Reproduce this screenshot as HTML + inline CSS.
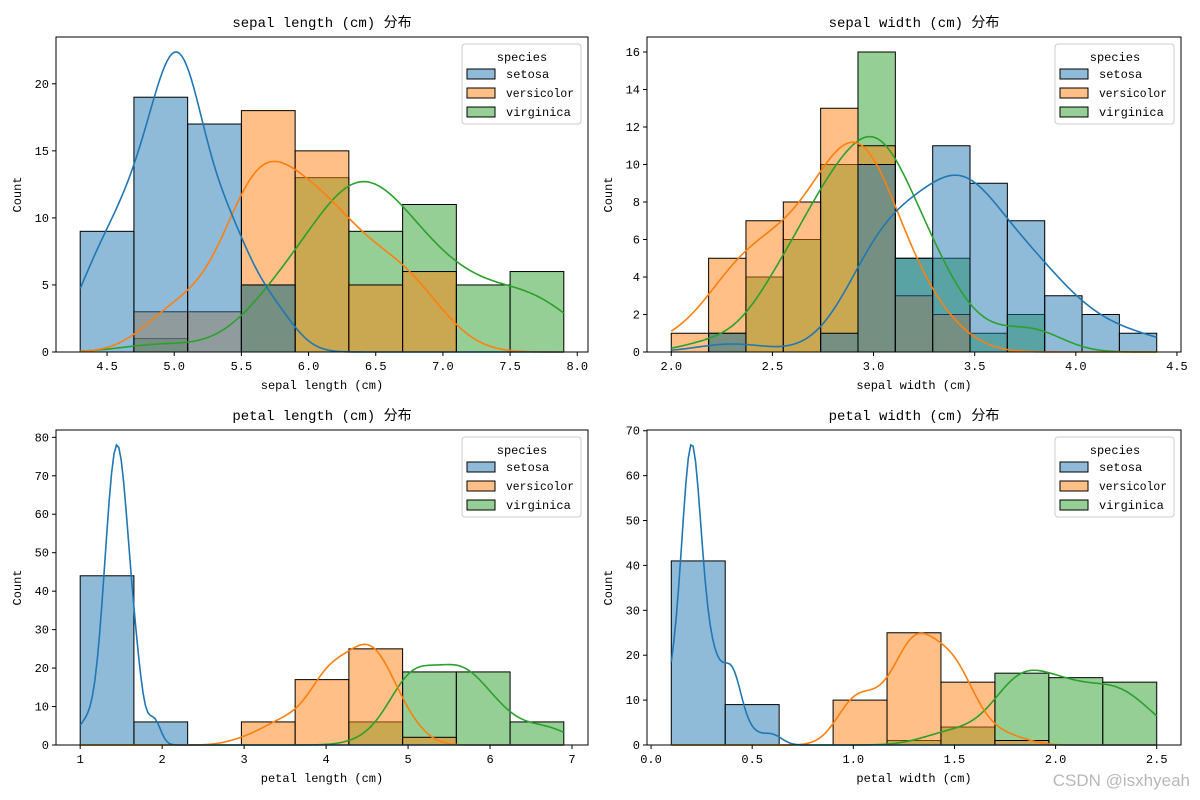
<!DOCTYPE html>
<html><head><meta charset="utf-8">
<style>
html,body{margin:0;padding:0;background:#fff;}
svg{display:block;}
text{font-family:"Liberation Mono","Noto Sans CJK SC",monospace;fill:#000;}
</style></head>
<body>
<svg id="fig" width="1200" height="800" xmlns="http://www.w3.org/2000/svg"></svg>
<script>
// ---- data ----
const species = ["setosa","versicolor","virginica"];
const colors = ["#1f77b4","#ff7f0e","#2ca02c"];
const features = ["sepal length (cm)","sepal width (cm)","petal length (cm)","petal width (cm)"];
const binMin = [4.3, 2.0, 1.0, 0.1];
const binMax = [7.9, 4.4, 6.9, 2.5];
const slSetosa = [9,19,17,5,0,0,0,0,0];
const slVersicolor = [0,3,3,18,15,5,6,0,0];
const slVirginica = [0,1,0,5,13,9,11,5,6];
const swSetosa = [0,1,0,0,1,10,5,11,9,7,3,2,1];
const swVersicolor = [1,5,7,8,13,11,3,2,0,0,0,0,0];
const swVirginica = [0,1,4,6,10,16,5,5,1,2,0,0,0];
const plSetosa = [44,6,0,0,0,0,0,0,0];
const plVersicolor = [0,0,0,6,17,25,2,0,0];
const plVirginica = [0,0,0,0,0,6,19,19,6];
const pwSetosa = [41,9,0,0,0,0,0,0,0];
const pwVersicolor = [0,0,0,10,25,14,1,0,0];
const pwVirginica = [0,0,0,0,1,4,16,15,14];
const slSetosaVals = [4.3,4.4,4.5,4.6,4.7,4.8,4.9,5.0,5.1,5.2,5.3,5.4,5.5,5.7,5.8];
const slSetosaFreq = [1,3,1,4,2,5,4,8,8,3,1,5,2,2,1];
const slVersVals = [4.9,5.0,5.1,5.2,5.4,5.5,5.6,5.7,5.8,5.9,6.0,6.1,6.2,6.3,6.4,6.5,6.6,6.7,6.8,6.9,7.0];
const slVersFreq = [1,2,1,1,1,5,5,5,3,2,4,4,2,3,2,1,2,3,1,1,1];
const slVirgVals = [4.9,5.6,5.7,5.8,5.9,6.0,6.1,6.2,6.3,6.4,6.5,6.7,6.8,6.9,7.1,7.2,7.3,7.4,7.6,7.7,7.9];
const slVirgFreq = [1,1,1,3,1,2,2,2,6,5,4,5,2,3,1,3,1,1,1,4,1];
const swSetosaVals = [2.3,2.9,3.0,3.1,3.2,3.3,3.4,3.5,3.6,3.7,3.8,3.9,4.0,4.1,4.2,4.4];
const swSetosaFreq = [1,1,6,4,5,2,9,6,3,3,4,2,1,1,1,1];
const swVersVals = [2.0,2.2,2.3,2.4,2.5,2.6,2.7,2.8,2.9,3.0,3.1,3.2,3.3,3.4];
const swVersFreq = [1,2,3,3,4,3,5,6,7,8,3,3,1,1];
const swVirgVals = [2.2,2.5,2.6,2.7,2.8,2.9,3.0,3.1,3.2,3.3,3.4,3.6,3.8];
const swVirgFreq = [1,4,2,4,8,2,12,4,5,3,2,1,2];
const plSetosaVals = [1.0,1.1,1.2,1.3,1.4,1.5,1.6,1.7,1.9];
const plSetosaFreq = [1,1,2,7,13,13,7,4,2];
const plVersVals = [3.0,3.3,3.5,3.6,3.7,3.8,3.9,4.0,4.1,4.2,4.3,4.4,4.5,4.6,4.7,4.8,4.9,5.0,5.1];
const plVersFreq = [1,2,2,1,1,1,3,5,3,4,2,4,7,3,5,2,2,1,1];
const plVirgVals = [4.5,4.8,4.9,5.0,5.1,5.2,5.3,5.4,5.5,5.6,5.7,5.8,5.9,6.0,6.1,6.3,6.4,6.6,6.7,6.9];
const plVirgFreq = [1,2,3,3,7,2,2,2,3,6,3,3,2,2,3,1,1,1,2,1];
const pwSetosaVals = [0.1,0.2,0.3,0.4,0.5,0.6];
const pwSetosaFreq = [5,29,7,7,1,1];
const pwVersVals = [1.0,1.1,1.2,1.3,1.4,1.5,1.6,1.7,1.8];
const pwVersFreq = [7,3,5,13,7,10,3,1,1];
const pwVirgVals = [1.4,1.5,1.6,1.7,1.8,1.9,2.0,2.1,2.2,2.3,2.4,2.5];
const pwVirgFreq = [1,2,1,1,11,5,6,6,3,8,3,3];
const xTicks0 = [4.5,5.0,5.5,6.0,6.5,7.0,7.5,8.0];
const xTicks1 = [2.0,2.5,3.0,3.5,4.0,4.5];
const xTicks2 = [1,2,3,4,5,6,7];
const xTicks3 = [0.0,0.5,1.0,1.5,2.0,2.5];
const yTicks0 = [0,5,10,15,20];
const yTicks1 = [0,2,4,6,8,10,12,14,16];
const yTicks2 = [0,10,20,30,40,50,60,70,80];
const yTicks3 = [0,10,20,30,40,50,60,70];
const xDec = [1,1,0,1];

const hists = [[slSetosa,slVersicolor,slVirginica],[swSetosa,swVersicolor,swVirginica],[plSetosa,plVersicolor,plVirginica],[pwSetosa,pwVersicolor,pwVirginica]];
const kvals = [[slSetosaVals,slVersVals,slVirgVals],[swSetosaVals,swVersVals,swVirgVals],[plSetosaVals,plVersVals,plVirgVals],[pwSetosaVals,pwVersVals,pwVirgVals]];
const kfreq = [[slSetosaFreq,slVersFreq,slVirgFreq],[swSetosaFreq,swVersFreq,swVirgFreq],[plSetosaFreq,plVersFreq,plVirgFreq],[pwSetosaFreq,pwVersFreq,pwVirgFreq]];
const xT = [xTicks0,xTicks1,xTicks2,xTicks3];
const yT = [yTicks0,yTicks1,yTicks2,yTicks3];

const NS="http://www.w3.org/2000/svg";
const fig=document.getElementById('fig');
function mk(tag,attrs,parent){const e=document.createElementNS(NS,tag);for(const k in attrs)e.setAttribute(k,attrs[k]);(parent||fig).appendChild(e);return e;}

const panels=[{l:56,t:37,r:588,b:352},{l:647,t:37,r:1181,b:352},{l:56,t:430,r:588,b:745},{l:647,t:430,r:1181,b:745}];

function kdeCurve(vals,freq,lo,hi,bw0){
  let n=0,s=0;for(let i=0;i<vals.length;i++){n+=freq[i];s+=vals[i]*freq[i];}
  const m=s/n;let ss=0;for(let i=0;i<vals.length;i++)ss+=freq[i]*(vals[i]-m)**2;
  const sd=Math.sqrt(ss/(n-1));const bw=sd*Math.pow(n,-0.2);
  const pts=[];
  for(let k=0;k<=200;k++){const x=lo+(hi-lo)*k/200;let d=0;
    for(let i=0;i<vals.length;i++){const z=(x-vals[i])/bw;d+=freq[i]*Math.exp(-0.5*z*z);}
    d=d/(n*bw*Math.sqrt(2*Math.PI));pts.push([x,d*n*bw0]);}
  return pts;
}

for(let p=0;p<4;p++){
  const P=panels[p];const g=mk('g',{});
  
  
  const lo=binMin[p],hi=binMax[p],span=hi-lo;const xl=lo-span*0.05,xh=hi+span*0.05;
  const nb=hists[p][0].length,bw=span/nb;
  const curves=[];let ymax=0;
  for(let s=0;s<3;s++){const c=kdeCurve(kvals[p][s],kfreq[p][s],lo,hi,bw);curves.push(c);
    for(const q of c)ymax=Math.max(ymax,q[1]);for(const v of hists[p][s])ymax=Math.max(ymax,v);}
  const yh=ymax*1.05;
  const X=v=>P.l+(v-xl)/(xh-xl)*(P.r-P.l);
  const Y=v=>P.b-v/yh*(P.b-P.t);
  for(let s=2;s>=0;s--){
    const h=hists[p][s];
    for(let i=0;i<nb;i++){if(h[i]<=0)continue;
      const x0=X(lo+i*bw),x1=X(lo+(i+1)*bw);
      const r=mk('rect',{x:x0,y:Y(h[i]),width:x1-x0,height:Y(0)-Y(h[i]),fill:colors[s],'fill-opacity':0.5,stroke:'#000','stroke-width':1},g);
      
      
    }
  }
  for(let s=2;s>=0;s--){
    const d=curves[s].map((q,i)=>(i?'L':'M')+X(q[0]).toFixed(2)+','+Y(q[1]).toFixed(2)).join('');
    const pa=mk('path',{d:d,fill:'none',stroke:colors[s],'stroke-width':1.6},g);
    
    
  }
  const fr=mk('rect',{x:P.l,y:P.t,width:P.r-P.l,height:P.b-P.t,fill:'none',stroke:'#000','stroke-width':1},g);
  
  
  for(const t of xT[p]){const x=X(t);mk('line',{x1:x,x2:x,y1:P.b,y2:P.b+4,stroke:'#000'},g);
    const tx=mk('text',{x:x,y:P.b+18,'text-anchor':'middle','font-size':12},g);tx.textContent=t.toFixed(xDec[p]);
    
    }
  for(const t of yT[p]){const y=Y(t);mk('line',{x1:P.l-4,x2:P.l,y1:y,y2:y,stroke:'#000'},g);
    const ty=mk('text',{x:P.l-7,y:y+4,'text-anchor':'end','font-size':12},g);ty.textContent=t;
    
    }
  const mx=(P.l+P.r)/2;
  const ti=mk('text',{x:mx,y:P.t-10,'text-anchor':'middle','font-size':14},g);ti.textContent=features[p]+' 分布';
  
  
  const xa=mk('text',{x:mx,y:P.b+37,'text-anchor':'middle','font-size':12},g);xa.textContent=features[p];
  
  
  const ya=mk('text',{x:0,y:0,'text-anchor':'middle','font-size':12,transform:`translate(${P.l-35},${(P.t+P.b)/2}) rotate(-90)`},g);ya.textContent='Count';
  
  
  const lg=mk('g',{},g);
  
  
  const lx=P.r-126,ly=P.t+7;
  mk('rect',{x:lx,y:ly,width:119,height:80,rx:3,fill:'#fff','fill-opacity':0.8,stroke:'#ccc'},lg);
  const lt=mk('text',{x:lx+60,y:ly+17,'text-anchor':'middle','font-size':12},lg);lt.textContent='species';
  for(let s=0;s<3;s++){const yy=ly+30+s*19;
    const e=mk('g',{},lg);
    
    
    mk('rect',{x:lx+5,y:yy-5,width:28,height:10,fill:colors[s],'fill-opacity':0.5,stroke:'#000'},e);
    const et=mk('text',{x:lx+44,y:yy+4,'font-size':12,textLength:68,lengthAdjust:'spacingAndGlyphs'},e);et.textContent=species[s];
    if(s!==1)et.removeAttribute('textLength');}
}
const wm=mk('text',{x:1190,y:786,'text-anchor':'end','font-size':17,style:'font-family:"Liberation Sans",sans-serif;fill:#b8b8b8'});
wm.textContent='CSDN @isxhyeah';


</script>
</body></html>
